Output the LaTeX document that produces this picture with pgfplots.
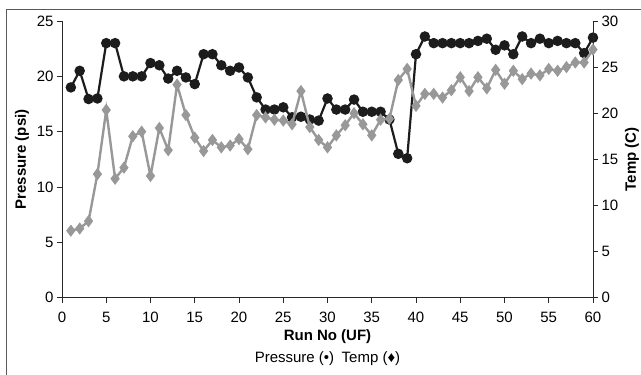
\documentclass[border=0pt]{standalone}
\usepackage{fontspec}
\setmainfont{Liberation Sans}
\usepackage{pgfplots}
\pgfplotsset{compat=1.18}
\definecolor{pblack}{RGB}{28,28,28}
\definecolor{tgray}{RGB}{152,152,152}
\definecolor{axc}{RGB}{40,40,40}
\begin{document}
\begin{tikzpicture}[x=1pt,y=1pt]
\pgfplotsset{every axis/.append style={
  scale only axis, width=531pt, height=276.7pt,
  at={(62pt,77.3pt)}, anchor=south west,
  xmin=0, xmax=60,
  tick align=outside, major tick length=5pt,
  /pgf/number format/assume math mode=true,
  tick label style={font=\fontsize{15}{18}\selectfont, text=black},
  label style={font=\fontsize{15}{18}\selectfont\bfseries},
  axis line style={-, draw=axc, line width=0.9pt},
  tick style={draw=axc, line width=0.9pt},
}}
\begin{axis}[
  axis x line*=bottom, axis y line*=left,
  ymin=0, ymax=25,
  xtick={0,5,...,60}, ytick={0,5,...,25},
  xticklabel style={yshift=-6pt},
  xlabel={Run No (UF)},
  ylabel={Pressure (psi)},
  xlabel style={at={(axis description cs:0.5,-0.1390)}, anchor=center},
  ylabel style={at={(axis description cs:-0.0753,0.5)}, anchor=center},
  clip=false,
]
\addplot[pblack, line width=2.2pt, mark=*, mark size=4.1pt, mark options={solid, fill=pblack, draw=pblack}] coordinates {
(1,19.0) (2,20.5) (3,17.95) (4,18.0) (5,23.0) (6,23.0) (7,20.0) (8,20.0) (9,20.0) (10,21.2)
(11,21.0) (12,19.8) (13,20.5) (14,19.9) (15,19.3) (16,22.0) (17,22.0) (18,21.0) (19,20.5) (20,20.8)
(21,19.9) (22,18.1) (23,17.0) (24,17.0) (25,17.2) (26,16.3) (27,16.35) (28,16.1) (29,16.0) (30,18.0)
(31,17.0) (32,17.0) (33,17.9) (34,16.8) (35,16.8) (36,16.8) (37,16.1) (38,13.0) (39,12.6) (40,22.0)
(41,23.6) (42,23.0) (43,23.0) (44,23.0) (45,23.0) (46,23.0) (47,23.2) (48,23.4) (49,22.4) (50,22.8)
(51,22.0) (52,23.6) (53,23.0) (54,23.4) (55,23.0) (56,23.2) (57,23.0) (58,23.0) (59,22.1) (60,23.5)
};
\end{axis}
\begin{axis}[
  axis x line=none, axis y line*=right,
  ymin=0, ymax=30,
  ytick={0,5,...,30},
  ylabel={Temp (C)},
  ylabel style={at={(axis description cs:1.0734,0.5)}, anchor=center, rotate=0},
  clip=false,
]
\addplot[tgray, line width=2.4pt, mark=diamond*, mark size=4.2pt, mark options={solid, fill=tgray, draw=tgray}] coordinates {
(1,7.26) (2,7.5) (3,8.3) (4,13.4) (5,20.35) (6,12.9) (7,14.1) (8,17.5) (9,18.0) (10,13.2)
(11,18.4) (12,16.0) (13,23.1) (14,19.8) (15,17.35) (16,15.9) (17,17.1) (18,16.3) (19,16.5) (20,17.2)
(21,16.1) (22,19.8) (23,19.55) (24,19.3) (25,19.2) (26,18.8) (27,22.4) (28,18.5) (29,17.1) (30,16.3)
(31,17.6) (32,18.7) (33,20.0) (34,18.8) (35,17.6) (36,19.3) (37,19.4) (38,23.6) (39,24.8) (40,20.8)
(41,22.1) (42,22.1) (43,21.7) (44,22.5) (45,23.9) (46,22.4) (47,23.9) (48,22.7) (49,24.7) (50,23.2)
(51,24.6) (52,23.7) (53,24.3) (54,24.1) (55,24.8) (56,24.6) (57,25.0) (58,25.5) (59,25.5) (60,26.9)
};
\end{axis}
\draw[black!65, line width=1pt] (6.7pt,-5pt) -- (6.7pt,365.5pt) -- (646pt,365.5pt);
\node[font=\fontsize{15}{18}\selectfont] at (327.5pt,16pt) {Pressure (•)\enspace Temp (♦)};
\pgfresetboundingbox
\path[use as bounding box] (0,0) rectangle (641pt,375pt);
\end{tikzpicture}
\end{document}
